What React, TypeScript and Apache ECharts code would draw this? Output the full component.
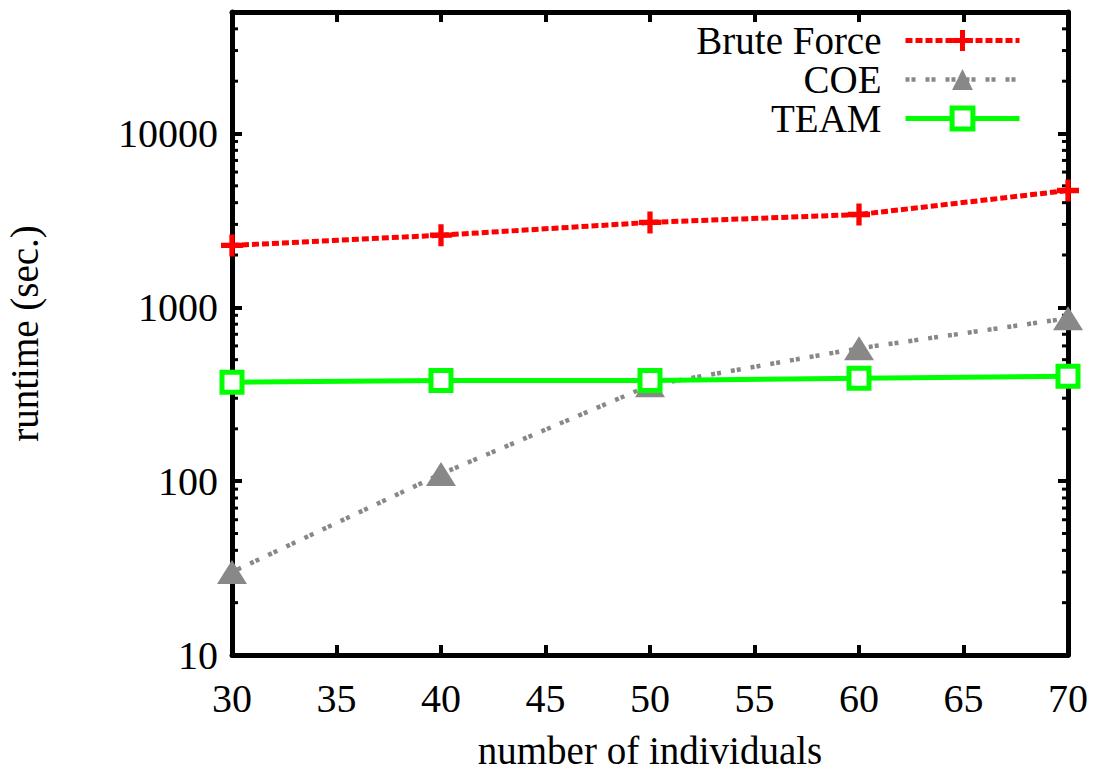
import React, { useEffect, useRef } from "react";
import * as echarts from "echarts";

const xValues = [30, 40, 50, 60, 70];
const bruteForce = [2270, 2600, 3080, 3420, 4700];
const coe = [30, 110, 356, 581, 865];
const team = [371, 380, 380, 391, 401];
const yMinorTicks = [
  20, 30, 40, 50, 60, 70, 80, 90,
  200, 300, 400, 500, 600, 700, 800, 900,
  2000, 3000, 4000, 5000, 6000, 7000, 8000, 9000,
  20000, 30000, 40000,
];
const yMajorLabels = ["10", "100", "1000", "10000"];

const FONT = "'Liberation Serif', 'Times New Roman', serif";
const FS = 39;
const TICK_FS = 40;

export default function App() {
  const ref = useRef<HTMLDivElement>(null);

  useEffect(() => {
    document.body.style.margin = "0";
    if (!ref.current) return;
    const chart = echarts.init(ref.current, undefined, { renderer: "svg" });

    const pair = (arr: number[]) => xValues.map((x, i) => [x, arr[i]]);

    const axisLine = { show: true, lineStyle: { color: "#000", width: 5 } };
    const axisTick = { show: true, inside: true, length: 10, lineStyle: { color: "#000", width: 4 } };

    const plus = "path://M3.8,0H6.2V3.8H10V6.2H6.2V10H3.8V6.2H0V3.8H3.8Z";

    chart.setOption({
      animation: false,
      backgroundColor: "#fff",
      grid: { left: 232, right: 25, top: 12, bottom: 117, containLabel: false, outerBoundsMode: "none" },
      legend: {
        orient: "vertical",
        align: "right",
        right: 66,
        top: 16,
        itemGap: 0,
        itemWidth: 114,
        itemHeight: 26,
        textStyle: { fontFamily: FONT, fontSize: FS, color: "#000", padding: [0, 19, 0, 0] },
        data: [
          { name: "Brute Force", lineStyle: { width: 5 } },
          { name: "COE", lineStyle: { width: 4.5 } },
          { name: "TEAM", lineStyle: { width: 5 }, itemStyle: { borderWidth: 5 } },
        ],
      },
      xAxis: [
        {
          type: "value",
          min: 30,
          max: 70,
          interval: 5,
          position: "bottom",
          name: "number of individuals",
          nameLocation: "middle",
          nameGap: 76,
          nameTextStyle: { fontFamily: FONT, fontSize: FS, color: "#000", lineHeight: 39 },
          axisLine,
          axisTick,
          splitLine: { show: false },
          axisLabel: { fontFamily: FONT, fontSize: TICK_FS, color: "#000", margin: 23 },
        },
        {
          type: "value",
          min: 30,
          max: 70,
          interval: 5,
          position: "top",
          axisLine,
          axisTick,
          splitLine: { show: false },
          axisLabel: { show: false },
        },
      ],
      yAxis: [
        {
          type: "log",
          logBase: 10,
          min: 10,
          max: 50000,
          position: "left",
          name: "runtime (sec.)",
          nameLocation: "middle",
          nameGap: 188,
          nameTextStyle: { fontFamily: FONT, fontSize: FS, color: "#000" },
          axisLine,
          axisTick,
          splitLine: { show: false },
          axisLabel: {
            fontFamily: FONT,
            fontSize: TICK_FS,
            color: "#000",
            margin: 14,
            formatter: (v: number) => (yMajorLabels.includes(String(Math.round(v))) ? String(Math.round(v)) : ""),
          },
        },
        {
          type: "log",
          logBase: 10,
          min: 10,
          max: 50000,
          position: "right",
          axisLine,
          axisTick,
          splitLine: { show: false },
          axisLabel: { show: false },
        },
      ],
      series: [
        {
          type: "custom",
          name: "minorTicks",
          silent: true,
          xAxisIndex: 0,
          yAxisIndex: 0,
          data: yMinorTicks.map((v) => [30, v]),
          renderItem: (params: any, api: any) => {
            const v = api.value(1);
            const l = api.coord([30, v]);
            const r = api.coord([70, v]);
            return {
              type: "group",
              children: [
                { type: "line", shape: { x1: l[0], y1: l[1], x2: l[0] + 6, y2: l[1] }, style: { stroke: "#000", lineWidth: 3 } },
                { type: "line", shape: { x1: r[0] - 6, y1: r[1], x2: r[0], y2: r[1] }, style: { stroke: "#000", lineWidth: 3 } },
              ],
            };
          },
          z: 1,
        },
        {
          name: "Brute Force",
          type: "line",
          data: pair(bruteForce),
          symbol: plus,
          symbolSize: 22,
          lineStyle: { color: "#ff0000", width: 5, type: [7, 3] },
          itemStyle: { color: "#ff0000" },
          z: 3,
        },
        {
          name: "COE",
          type: "line",
          data: pair(coe),
          symbol: "triangle",
          symbolSize: [30, 24],
          lineStyle: { color: "#888888", width: 4.5, type: [4, 2, 4, 10] },
          itemStyle: { color: "#888888" },
          z: 4,
        },
        {
          name: "TEAM",
          type: "line",
          data: pair(team),
          symbol: "rect",
          symbolSize: 20,
          lineStyle: { color: "#00ff00", width: 5 },
          itemStyle: { color: "#ffffff", borderColor: "#00ff00", borderWidth: 5 },
          z: 5,
        },
      ],
    });

    return () => chart.dispose();
  }, []);

  return <div ref={ref} style={{ width: 1093, height: 772 }} />;
}
